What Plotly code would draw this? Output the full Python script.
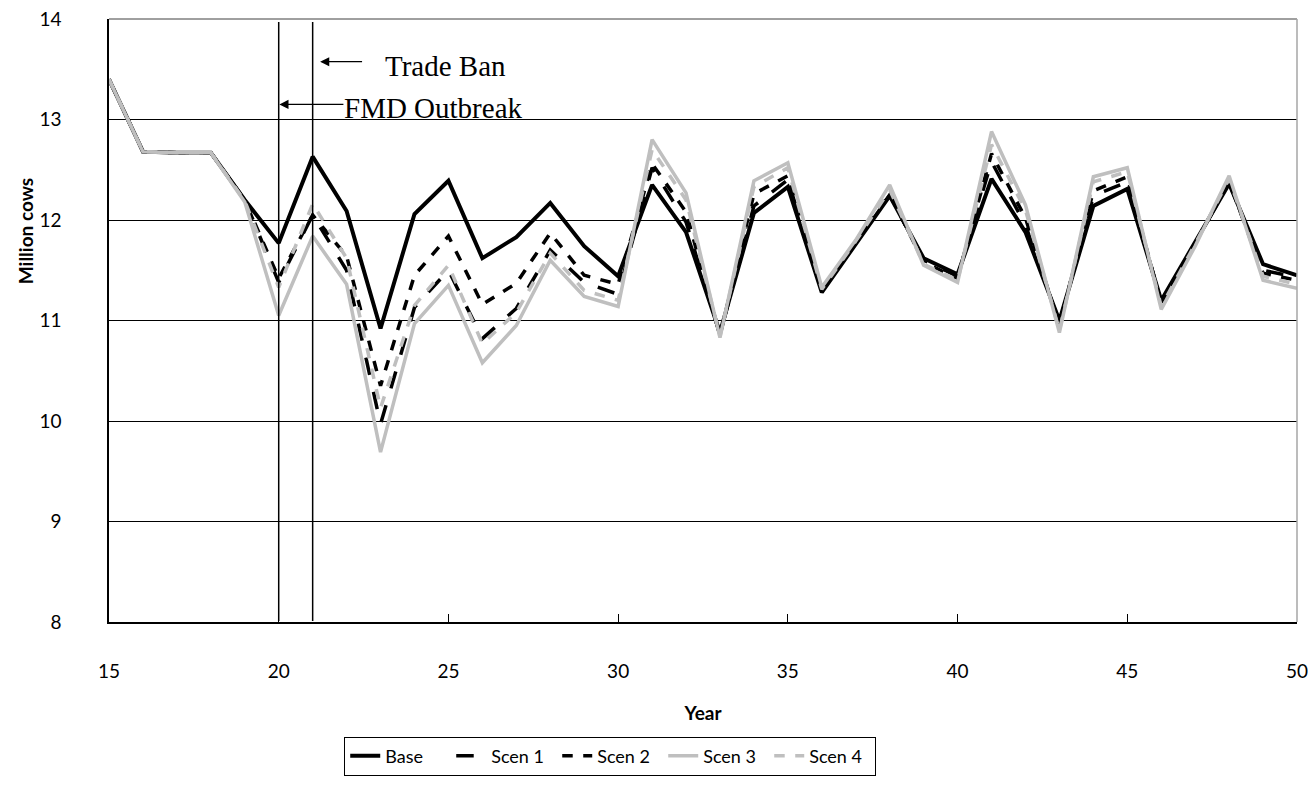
import plotly.graph_objects as go

years = list(range(15, 51))

base = [13.40, 12.68, 12.67, 12.67, 12.20, 11.77, 12.63, 12.09, 10.92, 12.06,
        12.39, 11.62, 11.83, 12.17, 11.74, 11.44, 12.35, 11.88, 10.88, 12.07,
        12.33, 11.28, 11.76, 12.24, 11.62, 11.46, 12.41, 11.88, 11.00, 12.14,
        12.31, 11.20, 11.78, 12.36, 11.56, 11.45]
scen1 = [13.40, 12.68, 12.67, 12.67, 12.20, 11.38, 12.05, 11.50, 9.97, 11.13,
         11.50, 10.82, 11.12, 11.70, 11.38, 11.26, 12.52, 11.98, 10.86, 12.14,
         12.40, 11.29, 11.77, 12.25, 11.60, 11.44, 12.58, 11.95, 10.97, 12.24,
         12.38, 11.18, 11.77, 12.37, 11.50, 11.43]
scen2 = [13.40, 12.68, 12.67, 12.67, 12.20, 11.42, 12.05, 11.64, 10.35, 11.45,
         11.84, 11.16, 11.37, 11.87, 11.45, 11.36, 12.56, 12.08, 10.85, 12.26,
         12.44, 11.30, 11.77, 12.26, 11.58, 11.42, 12.66, 12.02, 10.95, 12.29,
         12.43, 11.17, 11.77, 12.38, 11.47, 11.40]
scen3 = [13.40, 12.68, 12.67, 12.67, 12.18, 11.05, 11.84, 11.36, 9.69, 10.97,
         11.35, 10.58, 10.95, 11.60, 11.24, 11.14, 12.80, 12.27, 10.83, 12.39,
         12.57, 11.33, 11.80, 12.35, 11.55, 11.38, 12.88, 12.15, 10.88, 12.43,
         12.52, 11.11, 11.74, 12.44, 11.40, 11.32]
scen4 = [13.40, 12.68, 12.67, 12.67, 12.19, 11.33, 12.16, 11.62, 10.13, 11.15,
         11.55, 10.77, 11.08, 11.67, 11.30, 11.20, 12.70, 12.20, 10.84, 12.33,
         12.52, 11.31, 11.79, 12.30, 11.56, 11.40, 12.75, 12.10, 10.90, 12.38,
         12.48, 11.14, 11.76, 12.41, 11.44, 11.36]

series = [
    ("Base", base, "black", "solid", 4),
    ("Scen 1", scen1, "black", "longdash", 3.5),
    ("Scen 2", scen2, "black", "dash", 3.5),
    ("Scen 3", scen3, "#BFBFBF", "solid", 3.5),
    ("Scen 4", scen4, "#BFBFBF", "dash", 3.5),
]

event_years = [20, 21]

fig = go.Figure()
for name, vals, color, dash, w in series:
    fig.add_trace(go.Scatter(x=years, y=vals, mode="lines", name=name,
                             line=dict(color=color, dash=dash, width=w)))

for ey in event_years:
    fig.add_shape(type="line", x0=ey, x1=ey, y0=8.01, y1=13.97, xref="x", yref="y",
                  line=dict(color="black", width=1.5))

# top border (gridline at 14) and right border
fig.add_shape(type="line", x0=0, x1=1, y0=1, y1=1, xref="paper", yref="paper",
              line=dict(color="#404040", width=1))
fig.add_shape(type="line", x0=1, x1=1, y0=0, y1=1, xref="paper", yref="paper",
              line=dict(color="#A6A6A6", width=1.5))

# arrows
fig.add_annotation(x=21.22, y=13.575, ax=22.5, ay=13.575, xref="x", yref="y",
                   axref="x", ayref="y", text="", showarrow=True,
                   arrowhead=2, arrowsize=1.4, arrowwidth=1.3, arrowcolor="black")
fig.add_annotation(x=20.02, y=13.15, ax=21.95, ay=13.15, xref="x", yref="y",
                   axref="x", ayref="y", text="", showarrow=True,
                   arrowhead=2, arrowsize=1.4, arrowwidth=1.3, arrowcolor="black")
fig.add_annotation(x=23.07, y=13.53, xref="x", yref="y", text="Trade Ban",
                   showarrow=False, xanchor="left", yanchor="middle",
                   font=dict(family="Liberation Serif", size=29, color="black"))
fig.add_annotation(x=21.85, y=13.11, xref="x", yref="y", text="FMD Outbreak",
                   showarrow=False, xanchor="left", yanchor="middle",
                   font=dict(family="Liberation Serif", size=29, color="black"))

# y-axis title (placed off-centre as in the original)
fig.add_annotation(x=-0.0707, y=0.648, xref="paper", yref="paper",
                   text="<b>Million cows</b>", textangle=-90, showarrow=False,
                   xanchor="center", yanchor="middle",
                   font=dict(family="Lato", size=19, color="black"))

fig.update_layout(
    width=1316, height=801,
    margin=dict(l=101, r=27, t=11, b=187),
    plot_bgcolor="white", paper_bgcolor="white",
    font=dict(family="Lato", size=19, color="black"),
    showlegend=True,
    legend=dict(orientation="h", x=0.198, xanchor="left", y=-0.19, yanchor="top",
                bordercolor="black", borderwidth=1, font=dict(size=18),
                entrywidth=61, entrywidthmode="pixels", tracegroupgap=0),
)
fig.update_xaxes(range=[15, 50], tickvals=list(range(15, 51, 5)),
                 showgrid=False, showline=True, linecolor="black", linewidth=1.5,
                 ticks="inside", ticklen=8, tickcolor="black",
                 ticklabelstandoff=31, zeroline=False, automargin=False,
                 ticklabeloverflow="allow",
                 title=dict(text="<b>Year</b>", standoff=26, font=dict(size=19)))
fig.update_yaxes(range=[8, 14], dtick=1, showgrid=True, gridcolor="black", gridwidth=1,
                 showline=True, linecolor="black", linewidth=1.5, zeroline=False,
                 ticks="", ticklabelstandoff=42, automargin=False,
                 ticklabeloverflow="allow")

fig.write_html("out.html")
